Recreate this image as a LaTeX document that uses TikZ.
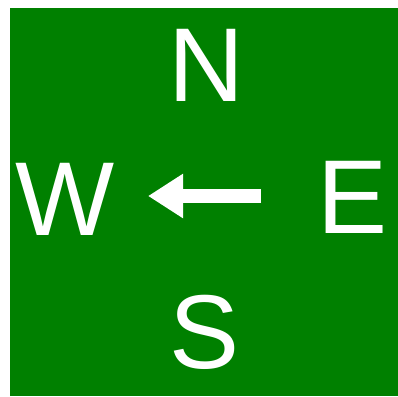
\documentclass[tikz,border=0pt]{standalone}
\usepackage{fontspec}
\setmainfont{Liberation Sans}
\usetikzlibrary{
    arrows.meta,
    positioning
}
\definecolor{signgreen}{HTML}{008000}
\tikzset{
    panel/.style={fill=signgreen, draw=none},
    compass/.style={text=white, inner sep=0pt, font=\fontsize{105}{105}\selectfont},
    pointer/.style={white, line width=14pt,
        -{Triangle[length=35pt, width=42pt]}}
}

\begin{document}
\begin{tikzpicture}[x=1pt, y=-1pt]
    \fill[white] (0,0) rectangle (398,396);
    \fill[panel] (10,8) rectangle (398,396);
    \node[compass] (north) at (206.5,65.5) {N};
    \node[compass] (west) at (65.5,199) {W};
    \node[compass] (east) at (352.5,197.5) {E};
    \node[compass] (south) at (205,332) {S};
    \coordinate (tail) at (261,196);
    \coordinate (tip) at (148,196);
    \draw[pointer] (tail) -- (tip);
\end{tikzpicture}
\end{document}
